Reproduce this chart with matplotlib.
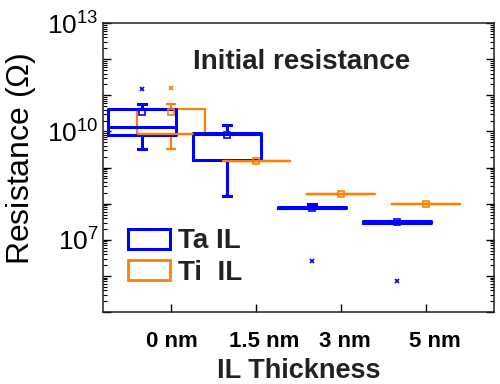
import matplotlib
matplotlib.use('Agg')
import matplotlib.pyplot as plt
from matplotlib.patches import Patch
from matplotlib.ticker import FixedLocator, LogLocator, FuncFormatter, NullFormatter
import numpy as np

plt.rcParams['font.family'] = ['Liberation Sans', 'DejaVu Sans']
plt.rcParams['mathtext.default'] = 'regular'

# IL thickness groups
thick_labels = ['0 nm', '1.5 nm', '3 nm', '5 nm']

# Ta IL resistance stats (ohm)
ta_q1 = [7.9e9, 1.6e9, 7.4e7, 2.9e7]
ta_med = [1.35e10, 8.5e9, 7.8e7, 3.1e7]
ta_q3 = [4.2e10, 9.1e9, 8.1e7, 3.4e7]
ta_lo = [3.3e9, 1.6e8, 7.4e7, 2.9e7]
ta_hi = [5.8e10, 1.5e10, 9.8e7, 3.4e7]
ta_mean = [3.4e10, 7.9e9, 7.8e7, 3.1e7]
ta_fliers = [[1.5e11], [], [2.5e6], [7.4e5]]

# Ti IL resistance stats (ohm)
ti_q1 = [8.3e9, 1.55e9, 1.9e8, 9.8e7]
ti_med = [8.3e9, 1.55e9, 1.9e8, 9.8e7]
ti_q3 = [4.2e10, 1.55e9, 1.9e8, 9.8e7]
ti_lo = [3.3e9, 1.55e9, 1.9e8, 9.8e7]
ti_hi = [5.8e10, 1.55e9, 1.9e8, 9.8e7]
ti_mean = [3.4e10, 1.55e9, 1.9e8, 9.8e7]
ti_fliers = [[1.55e11], [], [], []]

blue = '#0000FF'
orange = '#FF8000'


def make_stats(q1, med, q3, lo, hi, mean, fliers):
    return [dict(q1=a, med=b, q3=c, whislo=d, whishi=e, mean=f, fliers=g)
            for a, b, c, d, e, f, g in zip(q1, med, q3, lo, hi, mean, fliers)]


def draw(ax, stats, pos, color, lw):
    ax.bxp(stats, positions=pos, widths=0.8, showmeans=True, showfliers=True,
           capwidths=0.1,
           boxprops=dict(color=color, linewidth=lw),
           whiskerprops=dict(color=color, linewidth=lw),
           capprops=dict(color=color, linewidth=lw),
           medianprops=dict(color=color, linewidth=lw),
           meanprops=dict(marker='s', markerfacecolor='none', markeredgecolor=color,
                          markersize=4, markeredgewidth=1.2),
           flierprops=dict(marker='x', markeredgecolor=color, markersize=3.5,
                           markeredgewidth=1.2))


fig = plt.figure(figsize=(5, 3.84), dpi=100)
ax = fig.add_axes([0.206, 0.1875, 0.782, 0.7526])
ax.set_yscale('log')

x = np.arange(1, len(thick_labels) + 1)
draw(ax, make_stats(ti_q1, ti_med, ti_q3, ti_lo, ti_hi, ti_mean, ti_fliers), x, orange, 1.6)
draw(ax, make_stats(ta_q1, ta_med, ta_q3, ta_lo, ta_hi, ta_mean, ta_fliers), x - 0.34, blue, 2.2)

ax.set_xlim(0.2, 4.8)
ax.set_ylim(1e5, 1e13)
# tick marks at the groups, labels sit slightly right of them
ax.set_xticks(x)
ax.set_xticklabels([])
ax.set_xticks(x + np.array([0.01, 0.1, 0.05, 0.1]), minor=True)
ax.set_xticklabels(thick_labels, minor=True, fontsize=16, fontweight='bold')

ax.yaxis.set_major_locator(FixedLocator([10.0 ** k for k in range(5, 14)]))
ax.yaxis.set_major_formatter(FuncFormatter(
    lambda v, p: r'$10^{%d}$' % round(np.log10(v)) if round(np.log10(v)) in (7, 10, 13) else ''))
ax.yaxis.set_minor_locator(LogLocator(base=10, subs=np.arange(2, 10), numticks=20))
ax.yaxis.set_minor_formatter(NullFormatter())

ax.tick_params(axis='y', which='major', direction='in', length=6, width=1, labelsize=19,
               right=True, pad=3)
ax.tick_params(axis='y', which='minor', direction='in', length=3, width=0.8, right=True)
ax.tick_params(axis='x', which='major', direction='in', length=6, width=1)
ax.tick_params(axis='x', which='minor', length=0, pad=14)
for s in ax.spines.values():
    s.set_linewidth(1.1)
    s.set_color('#222222')

ax.set_ylabel('Resistance ($\\Omega$)', fontsize=23)
ax.yaxis.set_label_coords(-0.165, 0.53)
ax.set_xlabel('IL Thickness', fontsize=19.5, fontweight='bold', color='#222222')
ax.xaxis.set_label_coords(0.5, -0.16)

ax.text(0.508, 0.865, 'Initial resistance', transform=ax.transAxes, ha='center',
        va='center', fontsize=20, fontweight='bold', color='#222222')

handles = [Patch(facecolor='white', edgecolor=blue, linewidth=2.2, label='Ta IL'),
           Patch(facecolor='white', edgecolor=orange, linewidth=2.0, label='Ti  IL')]
leg = ax.legend(handles=handles, loc='lower left', bbox_to_anchor=(0.064, 0.09),
                frameon=False, prop=dict(size=20, weight='bold'),
                handlelength=1.5, handleheight=0.75, handletextpad=0.3,
                labelspacing=0.2, borderpad=0, borderaxespad=0)
for t in leg.get_texts():
    t.set_color('#222222')

fig.savefig('out.png', dpi=100)
